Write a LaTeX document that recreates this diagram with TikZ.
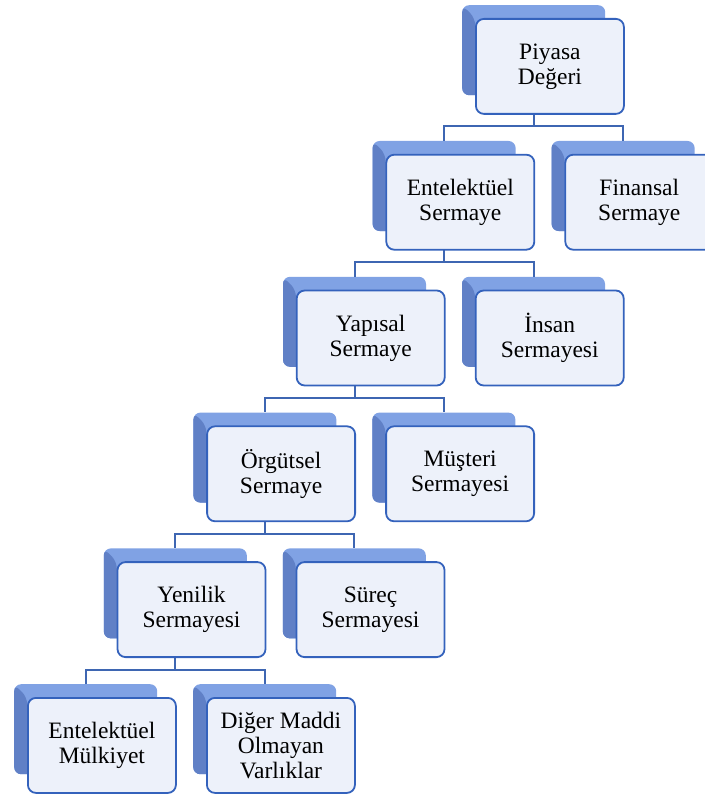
\documentclass[tikz,border=0pt]{standalone}
\usepackage{fontspec}
\setmainfont{Liberation Serif}
\pgfdeclarelayer{back}
\pgfdeclarelayer{mid}
\pgfsetlayers{back,mid,main}
\definecolor{backtop}{RGB}{128,162,228}
\definecolor{backleft}{RGB}{96,128,198}
\definecolor{boxborder}{RGB}{52,98,188}
\definecolor{connline}{RGB}{62,102,178}
\definecolor{frontfill}{RGB}{237,241,250}
\tikzset{
  backbox/.style={rectangle, rounded corners=7pt, minimum width=143pt, minimum height=90pt,
    inner sep=0pt, fill=backtop, draw=none,
    path picture={\fill[backleft] (path picture bounding box.north west) -- ++(13,13) -- ++(0,200) -- ++(-13,0) -- cycle;}},
  frontbox/.style={rectangle, rounded corners=8pt, minimum width=148pt, minimum height=95pt,
    inner sep=0pt, fill=frontfill, draw=boxborder, line width=1.8pt, align=center,
    font=\fontsize{23.5}{25}\selectfont, text=black},
  conn/.style={draw=connline, line width=2pt}
}
\newcommand\tbox[4]{%
  \begin{pgfonlayer}{back}
  \node[backbox, anchor=north west] (b#1) at (#2-13,#3-13) {};
  \end{pgfonlayer}
  \node[frontbox, anchor=north west] (f#1) at (#2,#3) {#4};
}
\begin{document}
\begin{tikzpicture}[x=1pt,y=-1pt]
\useasboundingbox (0,0) rectangle (704,794);
\tbox{0}{475}{18}{Piyasa\\Değeri}
\tbox{1a}{385.4}{153.8}{Entelektüel\\Sermaye}
\tbox{1b}{564.4}{153.8}{Finansal\\Sermaye}
\tbox{2a}{295.8}{289.6}{Yapısal\\Sermaye}
\tbox{2b}{474.8}{289.6}{İnsan\\Sermayesi}
\tbox{3a}{206.2}{425.4}{Örgütsel\\Sermaye}
\tbox{3b}{385.2}{425.4}{Müşteri\\Sermayesi}
\tbox{4a}{116.6}{561.2}{Yenilik\\Sermayesi}
\tbox{4b}{295.6}{561.2}{Süreç\\Sermayesi}
\tbox{5a}{27}{697}{Entelektüel\\Mülkiyet}
\tbox{5b}{206}{697}{Diğer Maddi\\Olmayan\\Varlıklar}
\begin{pgfonlayer}{mid}
\foreach \p/\c in {0/1a,0/1b,1a/2a,1a/2b,2a/3a,2a/3b,3a/4a,3a/4b,4a/5a,4a/5b}{
  \draw[conn] (b\p.south) -- ++(0,31) -| (b\c.north);
}
\end{pgfonlayer}
\end{tikzpicture}
\end{document}
